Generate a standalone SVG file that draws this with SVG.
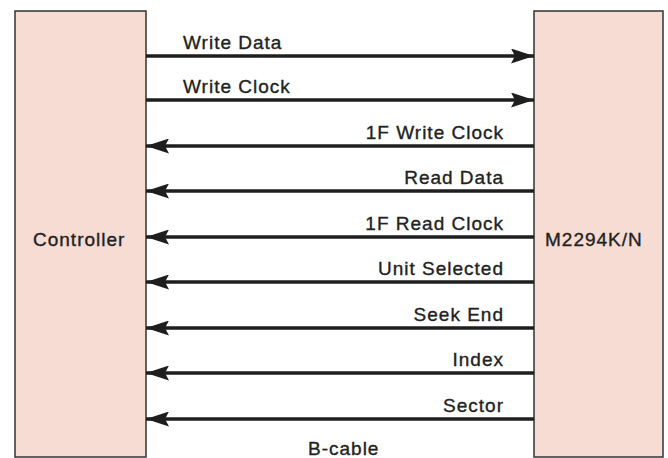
<svg xmlns="http://www.w3.org/2000/svg" width="668" height="458" viewBox="0 0 668 458">
<style>
.box{fill:#f6dcd2;stroke:#333;stroke-width:1.5}
.t{font-family:"Liberation Sans",Arial,sans-serif;font-size:19px;fill:#222;stroke:#222;stroke-width:0.35;letter-spacing:1px}
.l{stroke:#1e1e1e;stroke-width:3.5;fill:none}
.e{text-anchor:end}
</style>
<defs>
<marker id="ah" viewBox="0 0 23 15" refX="23" refY="7.5" markerWidth="23" markerHeight="15" markerUnits="userSpaceOnUse" orient="auto">
<path d="M0,0 L23,7.5 L0,15 L4,7.5 Z" fill="#1e1e1e"/>
</marker>
</defs>
<rect width="668" height="458" fill="#fff"/>
<g id="controller">
<rect class="box" x="15" y="11" width="131" height="446"/>
<text class="t" x="33" y="246">Controller</text>
</g>
<g id="m2294">
<rect class="box" x="534" y="11" width="129" height="446"/>
<text class="t" x="545" y="246">M2294K/N</text>
</g>
<g id="connectors">
<line class="l" x1="146" y1="56" x2="534" y2="56" marker-end="url(#ah)"/>
<line class="l" x1="146" y1="100" x2="534" y2="100" marker-end="url(#ah)"/>
<line class="l" x1="534" y1="146" x2="146" y2="146" marker-end="url(#ah)"/>
<line class="l" x1="534" y1="191" x2="146" y2="191" marker-end="url(#ah)"/>
<line class="l" x1="534" y1="237" x2="146" y2="237" marker-end="url(#ah)"/>
<line class="l" x1="534" y1="282" x2="146" y2="282" marker-end="url(#ah)"/>
<line class="l" x1="534" y1="328" x2="146" y2="328" marker-end="url(#ah)"/>
<line class="l" x1="534" y1="373" x2="146" y2="373" marker-end="url(#ah)"/>
<line class="l" x1="534" y1="419" x2="146" y2="419" marker-end="url(#ah)"/>
<text class="t" x="183" y="49">Write Data</text>
<text class="t" x="183" y="93">Write Clock</text>
<text class="t e" x="504" y="139">1F Write Clock</text>
<text class="t e" x="504" y="184">Read Data</text>
<text class="t e" x="504" y="230">1F Read Clock</text>
<text class="t e" x="504" y="275">Unit Selected</text>
<text class="t e" x="504" y="321">Seek End</text>
<text class="t e" x="504" y="366">Index</text>
<text class="t e" x="504" y="412">Sector</text>
<text class="t" x="308" y="455">B-cable</text>
</g>
</svg>
